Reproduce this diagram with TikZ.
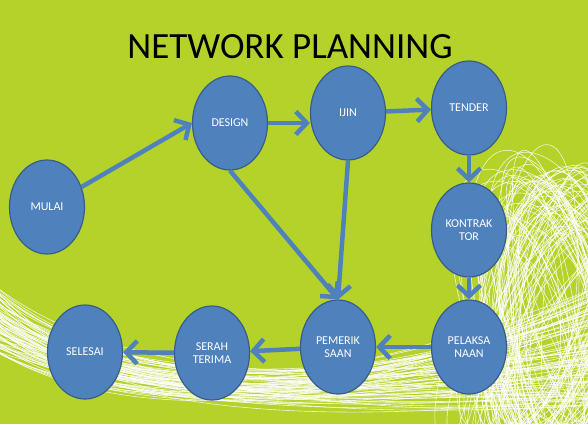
\documentclass[tikz,border=0pt]{standalone}
\usepackage{fontspec}
\setmainfont{Carlito}
\usetikzlibrary{arrows.meta,shapes.geometric}
\definecolor{bgGreen}  {RGB}{180,210,42}
\definecolor{nodeBlue} {RGB}{79,129,189}
\definecolor{nodeEdge} {RGB}{56,93,138}

\tikzset{
  tahap/.style={ellipse,draw=nodeEdge,fill=nodeBlue,line width=1.2pt,
                minimum width=75pt,minimum height=94pt,inner sep=0pt,
                text=white,align=center,font=\fontsize{12}{13}\selectfont},
  panah/.style={-{Straight Barb[length=11pt,width=23pt]},nodeBlue,line width=4.5pt},
  serat/.style={white,line width=0.6pt,opacity=0.8}
}

\begin{document}
\begin{tikzpicture}[x=1pt,y=-1pt]

    % ─── Latar ────────────────────────────────────────────
    \fill[bgGreen] (0,0) rectangle (588,424);
    \useasboundingbox (0,0) rectangle (588,424);
    \begin{scope}
      \clip (0,0) rectangle (588,424);
      \pgfmathsetseed{7}
      % serat putih di bawah
      \foreach \k in {1,...,75}{
        \pgfmathsetmacro{\ya}{315+35*rand}
        \pgfmathsetmacro{\yb}{400+30*rand}
        \pgfmathsetmacro{\yc}{405+25*rand}
        \pgfmathsetmacro{\yd}{345+60*rand}
        \draw[serat] (-10,\ya) .. controls (110,\yb) and (340,\yc) .. (600,\yd);
      }
      % gulungan serat di kanan
      \foreach \k in {1,...,85}{
        \pgfmathsetmacro{\cx}{550+25*rand}
        \pgfmathsetmacro{\cy}{330+35*rand}
        \pgfmathsetmacro{\rot}{85+30*rand}
        \pgfmathsetmacro{\ra}{140+25*rand}
        \pgfmathsetmacro{\rb}{45+20*rand}
        \draw[serat,rotate around={\rot:(\cx,\cy)}] (\cx,\cy) ellipse ({\ra} and {\rb});
      }
    \end{scope}

    % ─── Judul ────────────────────────────────────────────
    \node[font=\fontsize{37}{40}\selectfont] (judul) at (290,47) {NETWORK PLANNING};

    % ─── Tahapan ──────────────────────────────────────────
    \node[tahap] (mulai)     at (47,207)  {MULAI};
    \node[tahap] (design)    at (230,123) {DESIGN};
    \node[tahap] (ijin)      at (348,113) {IJIN};
    \node[tahap] (tender)    at (469,108) {TENDER};
    \node[tahap] (kontrak)   at (469,230) {KONTRAK\\TOR};
    \node[tahap] (pelaksana) at (469,347) {PELAKSA\\NAAN};
    \node[tahap] (periksa)   at (338,347) {PEMERIK\\SAAN};
    \node[tahap] (serah)     at (212,353) {SERAH\\TERIMA};
    \node[tahap] (selesai)   at (85,352)  {SELESAI};

    % ─── Panah ────────────────────────────────────────────
    \draw[panah] (mulai) -- (design.west);
    \draw[panah] (design.east) -- (design.east -| ijin.west);
    \draw[panah] (ijin) -- (tender);
    \draw[panah] (tender) -- (kontrak);
    \draw[panah] (kontrak) -- (pelaksana);
    \draw[panah] (design.south) -- (periksa.north);
    \draw[panah] (ijin.south) -- (periksa.north);
    \draw[panah] (pelaksana) -- (periksa);
    \draw[panah] (periksa) -- (serah);
    \draw[panah] (serah) -- (selesai);

\end{tikzpicture}
\end{document}
